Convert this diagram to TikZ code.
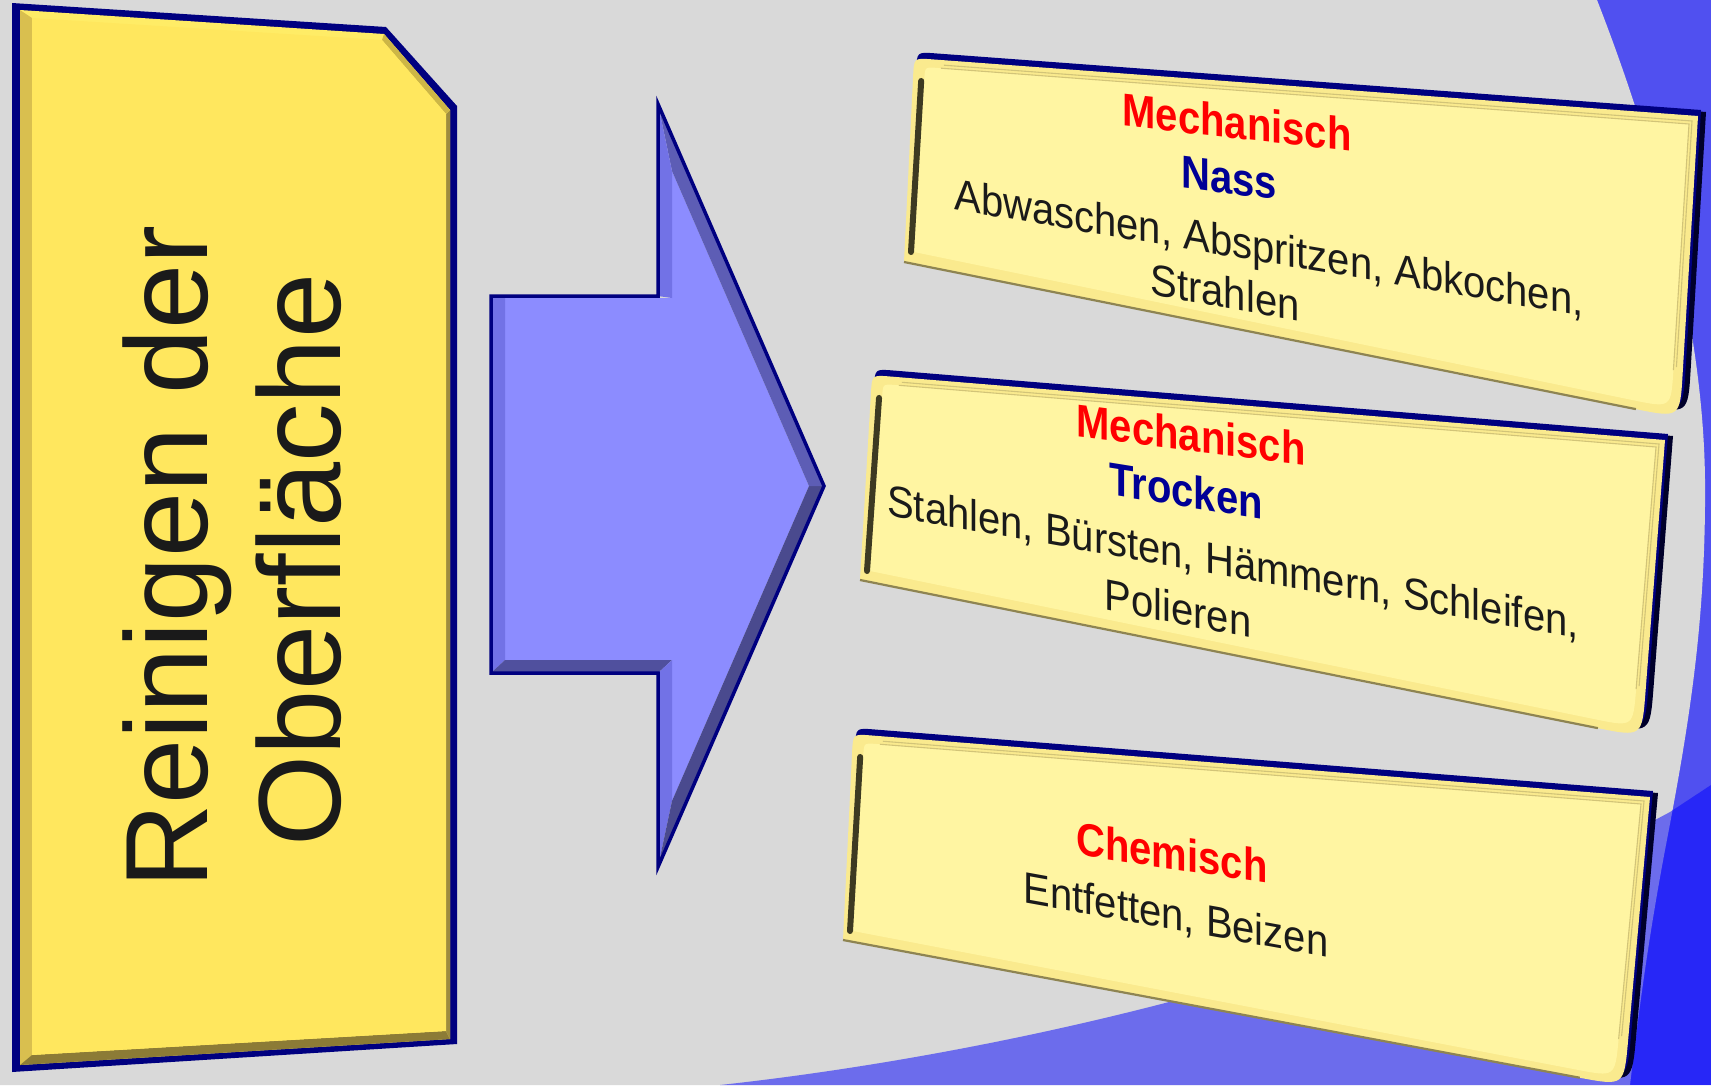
\documentclass[tikz,border=0pt]{standalone}
\usepackage{fontspec}
\setmainfont{Liberation Sans}
\usetikzlibrary{calc}
\definecolor{bggrey}{HTML}{D9D9D9}
\definecolor{bgblue}{HTML}{5050F0}
\definecolor{navy}{HTML}{000080}
\definecolor{pdark}{HTML}{00002A}
\definecolor{boxface}{HTML}{FFE75E}
\definecolor{boxtop}{HTML}{FFEC66}
\definecolor{boxleft}{HTML}{D9BF4F}
\definecolor{boxbottom}{HTML}{8C7B36}
\definecolor{boxright}{HTML}{9E8C3E}
\definecolor{boxchamfer}{HTML}{CDB646}
\definecolor{arrface}{HTML}{8C8CFF}
\definecolor{arrlight}{HTML}{7272E6}
\definecolor{arrmid}{HTML}{5D5DB5}
\definecolor{arrdark}{HTML}{4A4A8E}
\definecolor{arrbot}{HTML}{50509E}
\definecolor{prim}{HTML}{FAEA8E}
\definecolor{pface}{HTML}{FFF5A2}
\definecolor{pline}{HTML}{D2C478}
\definecolor{pbev}{HTML}{3D3A22}
\definecolor{pshad}{HTML}{8E8452}
\definecolor{hdred}{HTML}{FF0000}
\definecolor{hdblue}{HTML}{000096}
\definecolor{txtblack}{HTML}{1A1A1A}
\newcommand\pnlpath[3]{($(#1tl)!#2!(#1bl)$) .. controls (#1tl) .. ($(#1tl)!#2!(#1tr)$) -- (#1tr) -- ($(#1br)!#3!(#1tr)$) .. controls (#1br) .. ($(#1br)!#3!(#1bl)$) -- (#1bl) -- cycle}
\newcommand\drawpanel[1]{%
  \begin{scope}[transform canvas={shift={(8pt,4pt)}}]
    \fill[pdark] \pnlpath{p#1}{18pt}{45pt};
  \end{scope}
  \begin{scope}[transform canvas={shift={(3pt,6pt)}}]
    \fill[navy] \pnlpath{p#1}{18pt}{45pt};
  \end{scope}
  \fill[prim] \pnlpath{p#1}{18pt}{45pt};
  \draw[pshadowline] (p#1bl) -- ($(p#1br)!45pt!(p#1bl)$);
  \fill[pface] \pnlpath{f#1}{12pt}{38pt};
  \draw[pthin] ($(f#1tl)!16pt!(f#1tr)$) -- (f#1tr) -- ($(f#1br)!38pt!(f#1tr)$);
  \begin{scope}[transform canvas={shift={(3pt,3pt)}}]
    \draw[pthin] ($(f#1tl)!16pt!(f#1tr)$) -- (f#1tr) -- ($(f#1br)!38pt!(f#1tr)$);
  \end{scope}
  \draw[pbevel] ($(f#1bl)+(-3,0)$) -- ($(f#1tl)!14pt!(f#1bl)+(-3,0)$);
}
\begin{document}
\begin{tikzpicture}[x=1pt,y=-1pt,
  pshadowline/.style={draw=pshad, line width=2.2pt},
  pthin/.style={draw=pline, line width=1.1pt},
  pbevel/.style={draw=pbev, line width=6pt, line cap=round},
  hd/.style={font=\fontsize{40}{48}\selectfont\bfseries, inner sep=0pt, anchor=base, yscale=1.15},
  bd/.style={font=\fontsize{40}{48}\selectfont, inner sep=0pt, anchor=base, text=txtblack, yscale=1.1},
  big/.style={font=\fontsize{117}{133}\selectfont, inner sep=0pt, anchor=base, text=txtblack, rotate=90}]
\useasboundingbox (0,0) rectangle (1711,1085);
% background
\fill[bgblue] (0,0) rectangle (1711,1085);
\fill[bggrey] (0,0) -- (1597,0) .. controls (1640,110) and (1703,300) .. (1705,480)
  .. controls (1706,620) and (1690,720) .. (1665,850)
  .. controls (1650,930) and (1640,1000) .. (1630,1085) -- (0,1085) -- cycle;
\fill[blue, opacity=0.5] (720,1085) .. controls (950,1060) and (1350,985) .. (1670,812)
  -- (1711,785) -- (1711,1085) -- cycle;
% left yellow box
\fill[navy] (12,3) -- (386,27) -- (457,106) -- (457,1044) -- (12,1072) -- cycle;
\fill[boxtop] (20,10) -- (384,34) -- (450,110) -- (450,1039) -- (20,1065) -- cycle;
\fill[boxleft] (20,10) -- (32,18) -- (32,1055) -- (20,1065) -- cycle;
\fill[boxbottom] (20,1065) -- (32,1055) -- (446,1031) -- (450,1039) -- cycle;
\fill[boxright] (450,110) -- (446,114) -- (446,1031) -- (450,1039) -- cycle;
\fill[boxchamfer] (384,34) -- (450,110) -- (446,114) -- (382,40) -- cycle;
\fill[boxface] (32,18) -- (382,40) -- (446,114) -- (446,1031) -- (32,1055) -- cycle;
\node[big] (t1) at (207,557) {Reinigen der};
\node[big] (t2) at (340,560) {Oberfläche};
% arrow
\fill[arrface] (505,298) -- (672,298) -- (672,171) -- (809,486) -- (672,801) -- (672,660) -- (505,660) -- cycle;
\fill[arrlight] (491,296) -- (505,298) -- (505,660) -- (491,673) -- cycle;
\fill[arrbot] (491,673) -- (505,660) -- (672,660) -- (658,673) -- cycle;
\fill[arrlight] (658,673) -- (672,660) -- (672,801) -- (658,867) -- cycle;
\fill[arrdark] (658,867) -- (672,801) -- (809,486) -- (824,486) -- cycle;
\fill[arrmid] (824,486) -- (809,486) -- (672,171) -- (658,104) -- cycle;
\fill[arrlight] (658,104) -- (672,171) -- (672,298) -- (658,296) -- cycle;
\draw[navy, line width=3.5pt, line join=miter] (491,296) -- (658,296) -- (658,104) -- (824,486) -- (658,867) -- (658,673) -- (491,673) -- cycle;
% panel coordinates
\coordinate (p1tl) at (914,58);  \coordinate (p1tr) at (1698,116);
\coordinate (p1br) at (1680,418); \coordinate (p1bl) at (904,262);
\coordinate (f1tl) at (925,67);  \coordinate (f1tr) at (1689,124);
\coordinate (f1br) at (1671,408); \coordinate (f1bl) at (914,252);
\coordinate (p2tl) at (872,375);  \coordinate (p2tr) at (1665,440);
\coordinate (p2br) at (1642,737); \coordinate (p2bl) at (860,580);
\coordinate (f2tl) at (883,384);  \coordinate (f2tr) at (1656,447);
\coordinate (f2br) at (1633,727); \coordinate (f2bl) at (870,571);
\coordinate (p3tl) at (853,734);  \coordinate (p3tr) at (1650,797);
\coordinate (p3br) at (1624,1086); \coordinate (p3bl) at (843,940);
\coordinate (f3tl) at (864,743);  \coordinate (f3tr) at (1641,804);
\coordinate (f3br) at (1615,1077); \coordinate (f3bl) at (853,931);
\drawpanel{1}
\drawpanel{2}
\drawpanel{3}
% panel texts
\node[hd, text=hdred, yslant=-0.097] (a1) at (1237,138.6) {Mechanisch};
\node[hd, text=hdblue, yslant=-0.11] (a2) at (1229,193.7) {Nass};
\node[bd, yslant=-0.154] (a3) at (1269,263) {Abwaschen, Abspritzen, Abkochen,};
\node[bd, yslant=-0.16] (a4) at (1225,308) {Strahlen};
\node[hd, text=hdred, yslant=-0.11] (b1) at (1191,451) {Mechanisch};
\node[hd, text=hdblue, yslant=-0.14] (b2) at (1186,507) {Trocken};
\node[bd, yslant=-0.162] (b3) at (1233,577) {Stahlen, Bürsten, Hämmern, Schleifen,};
\node[bd, yslant=-0.177] (b4) at (1178,624) {Polieren};
\node[hd, text=hdred, yslant=-0.128] (c1) at (1172,869) {Chemisch};
\node[bd, yslant=-0.164] (c2) at (1176,930) {Entfetten, Beizen};
\end{tikzpicture}
\end{document}
